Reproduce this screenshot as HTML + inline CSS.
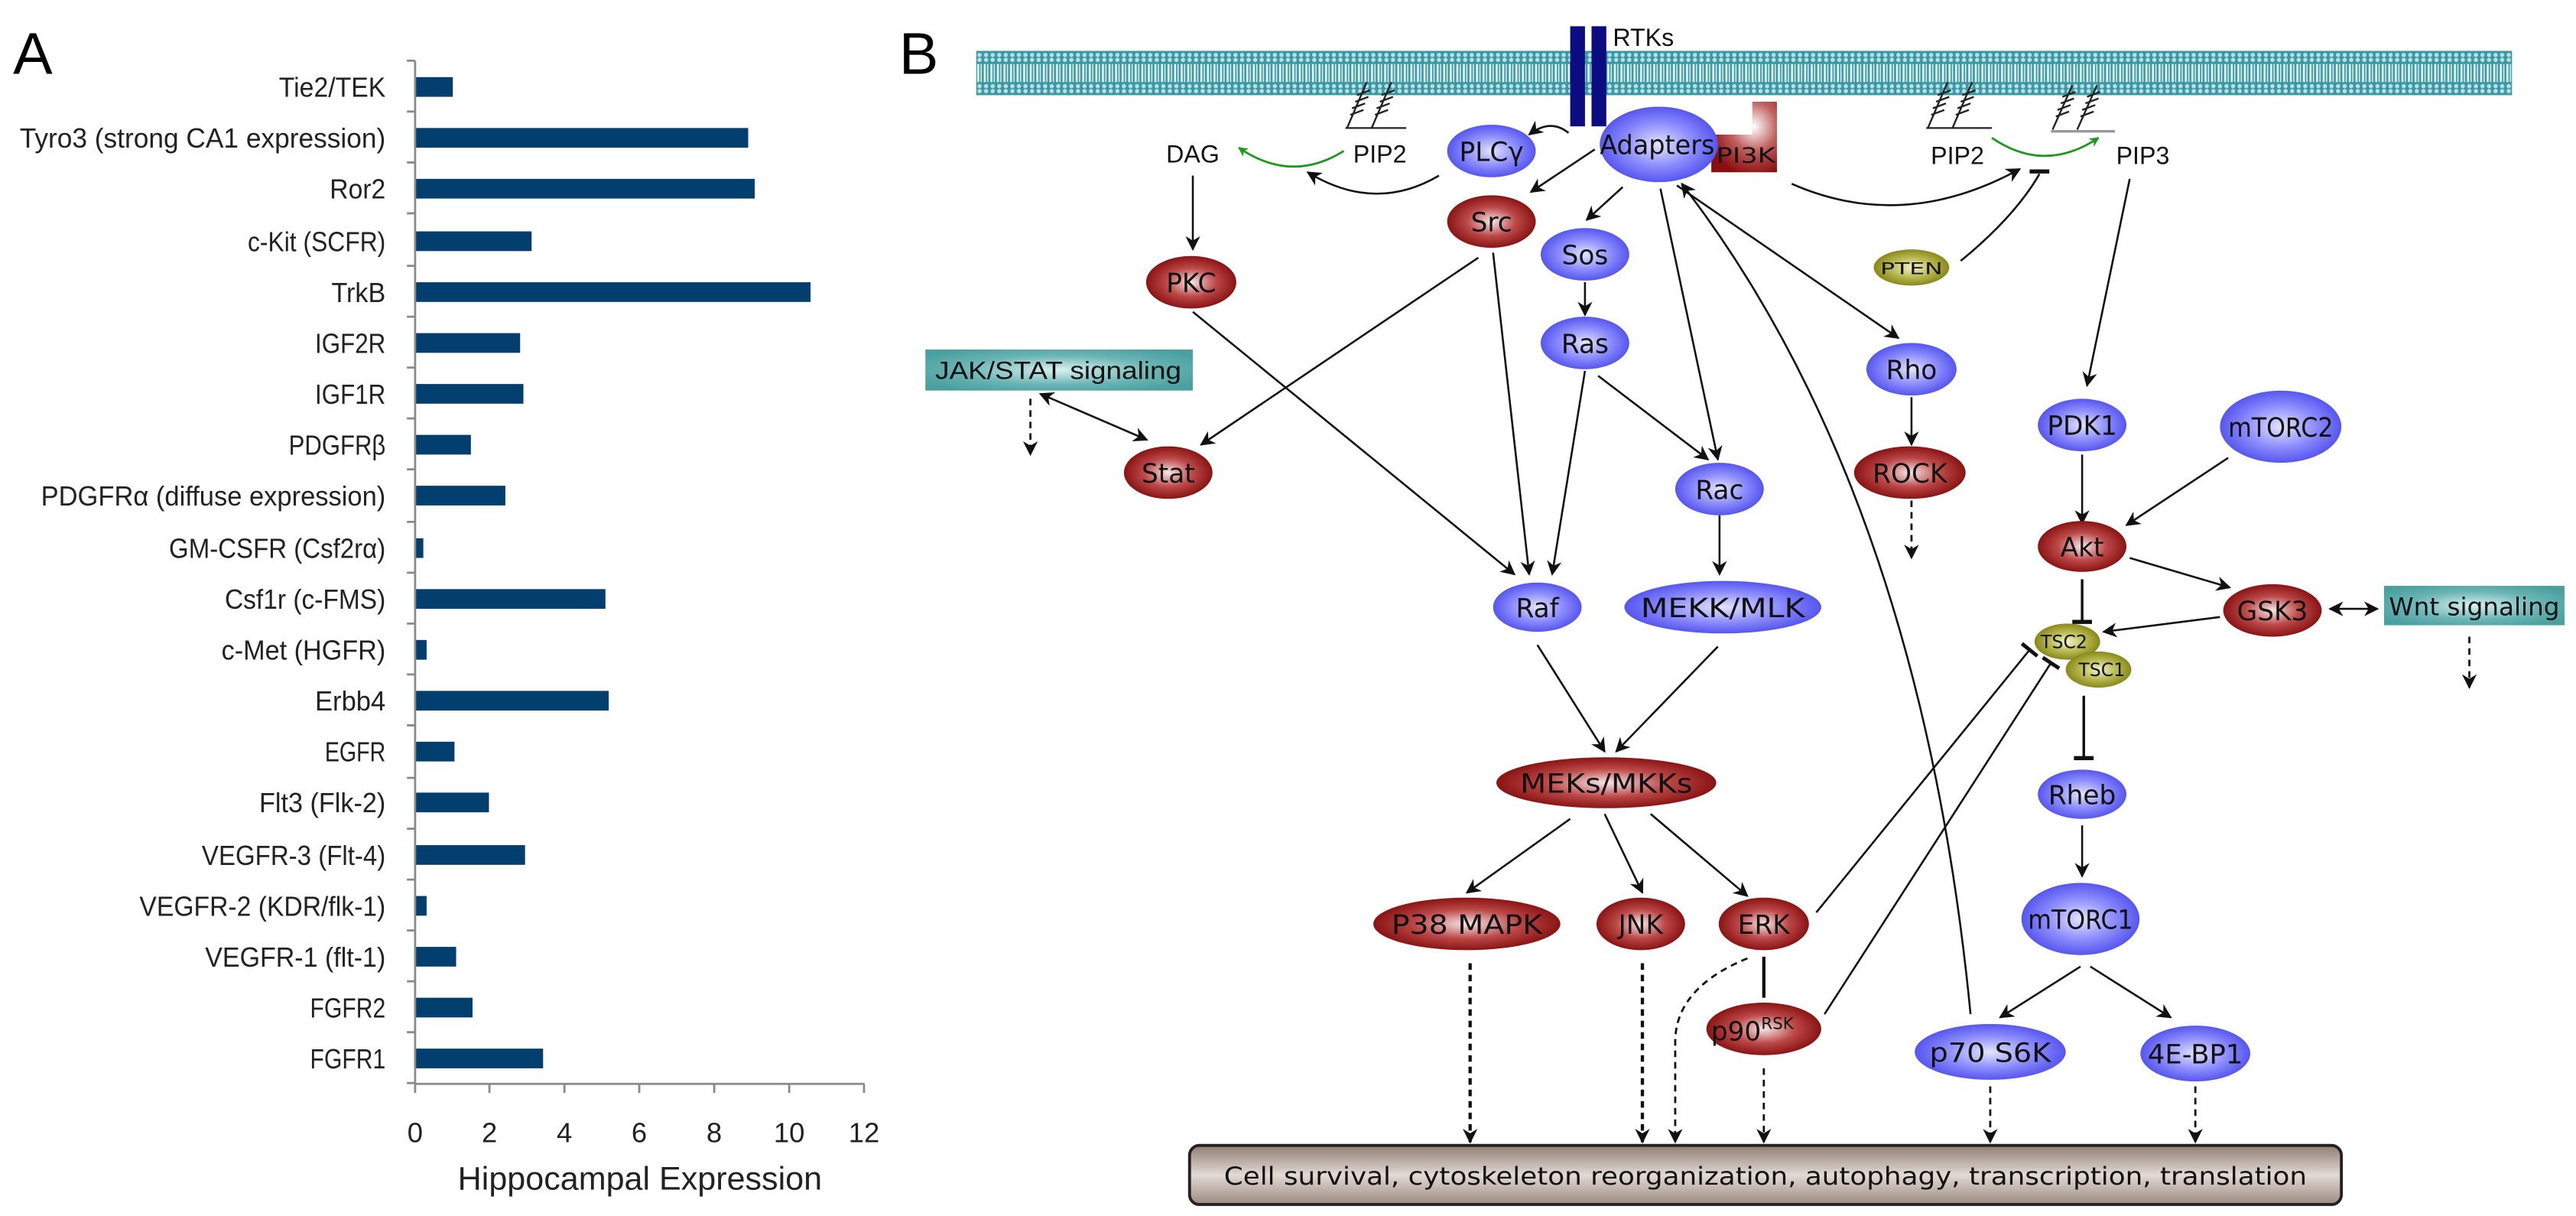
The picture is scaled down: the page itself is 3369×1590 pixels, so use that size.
<!DOCTYPE html>
<html><head><meta charset="utf-8"><style>
html,body{margin:0;padding:0;background:#fff;}
svg{display:block;}
</style></head><body>
<svg xmlns="http://www.w3.org/2000/svg" width="3369" height="1590" viewBox="0 0 1570 741" preserveAspectRatio="none">
<defs>
<radialGradient id="gB" cx="50%" cy="50%" r="50%"><stop offset="0" stop-color="#e4e4ff"/><stop offset="0.55" stop-color="#9090ff"/><stop offset="1" stop-color="#5656ee"/></radialGradient>
<radialGradient id="gR" cx="50%" cy="50%" r="50%"><stop offset="0" stop-color="#f6e6e6"/><stop offset="0.55" stop-color="#bd4848"/><stop offset="1" stop-color="#8a1414"/></radialGradient>
<radialGradient id="gO" cx="50%" cy="50%" r="50%"><stop offset="0" stop-color="#f2f2c8"/><stop offset="0.6" stop-color="#b4b44a"/><stop offset="1" stop-color="#88881c"/></radialGradient>
<radialGradient id="gP" cx="65%" cy="35%" r="70%"><stop offset="0" stop-color="#ffffff"/><stop offset="0.5" stop-color="#c06060"/><stop offset="1" stop-color="#8a1010"/></radialGradient>
<radialGradient id="gT" cx="50%" cy="50%" r="60%"><stop offset="0" stop-color="#d8f0f0"/><stop offset="0.6" stop-color="#6ab4b4"/><stop offset="1" stop-color="#4aa0a0"/></radialGradient>
<linearGradient id="gBox" x1="0" y1="0" x2="0" y2="1"><stop offset="0" stop-color="#8e7d72"/><stop offset="0.5" stop-color="#e2dad4"/><stop offset="1" stop-color="#9a8a7e"/></linearGradient>
<pattern id="mem" width="4" height="27" patternUnits="userSpaceOnUse" x="595" y="31">
<rect width="4" height="27" fill="#3a98a2"/>
<circle cx="2" cy="2.5" r="1.3" fill="#b8e0e4"/><circle cx="2" cy="5.5" r="1.3" fill="#b8e0e4"/>
<circle cx="2" cy="21.5" r="1.3" fill="#b8e0e4"/><circle cx="2" cy="24.5" r="1.3" fill="#b8e0e4"/>
<rect x="0.6" y="8" width="1.2" height="11" fill="#e8f6f6"/><rect x="2.6" y="8" width="0.8" height="11" fill="#d0ecee"/>
</pattern>
<marker id="a" viewBox="0 0 10 10" refX="9" refY="5" markerWidth="9" markerHeight="9" markerUnits="userSpaceOnUse" orient="auto"><path d="M0,0 L10,5 L0,10 L3,5 Z" fill="#111"/></marker>
<marker id="ag" viewBox="0 0 10 10" refX="9" refY="5" markerWidth="6" markerHeight="6" markerUnits="userSpaceOnUse" orient="auto"><path d="M0,0 L10,5 L0,10 L3,5 Z" fill="#1a9a1a"/></marker>
<marker id="as" viewBox="0 0 10 10" refX="1" refY="5" markerWidth="9" markerHeight="9" markerUnits="userSpaceOnUse" orient="auto"><path d="M10,0 L0,5 L10,10 L7,5 Z" fill="#111"/></marker>
</defs>

<!-- PANEL A -->
<text x="8" y="45" font-family="Liberation Sans, sans-serif" font-size="36">A</text>
<g fill="#033f6e">
<rect x="253" y="47" width="23" height="12"/>
<rect x="253" y="78" width="203" height="12"/>
<rect x="253" y="109" width="207" height="12"/>
<rect x="253" y="141" width="71" height="12"/>
<rect x="253" y="172" width="241" height="12"/>
<rect x="253" y="203" width="64" height="12"/>
<rect x="253" y="234" width="66" height="12"/>
<rect x="253" y="265" width="34" height="12"/>
<rect x="253" y="296" width="55" height="12"/>
<rect x="253" y="328" width="5" height="12"/>
<rect x="253" y="359" width="116" height="12"/>
<rect x="253" y="390" width="7" height="12"/>
<rect x="253" y="421" width="118" height="12"/>
<rect x="253" y="452" width="24" height="12"/>
<rect x="253" y="483" width="45" height="12"/>
<rect x="253" y="515" width="67" height="12"/>
<rect x="253" y="546" width="7" height="12"/>
<rect x="253" y="577" width="25" height="12"/>
<rect x="253" y="608" width="35" height="12"/>
<rect x="253" y="639" width="78" height="12"/>
</g>
<g stroke="#8a8a8a" stroke-width="1.3" fill="none">
<line x1="253" y1="37" x2="253" y2="661"/>
<line x1="253" y1="660.5" x2="527" y2="660.5"/>
<path d="M248,37H253 M248,68H253 M248,99H253 M248,130H253 M248,162H253 M248,193H253 M248,224H253 M248,255H253 M248,286H253 M248,318H253 M248,349H253 M248,380H253 M248,411H253 M248,442H253 M248,474H253 M248,505H253 M248,536H253 M248,567H253 M248,598H253 M248,629H253 M248,660H253"/>
<path d="M253,661V666 M298.3,661V666 M344,661V666 M389.6,661V666 M435.3,661V666 M481,661V666 M526.6,661V666"/>
</g>
<g font-family="Liberation Sans, sans-serif" font-size="17" fill="#222" text-anchor="end">
<text x="235" y="59" textLength="65" lengthAdjust="spacingAndGlyphs">Tie2/TEK</text>
<text x="235" y="90" textLength="223" lengthAdjust="spacingAndGlyphs">Tyro3 (strong CA1 expression)</text>
<text x="235" y="121" textLength="34" lengthAdjust="spacingAndGlyphs">Ror2</text>
<text x="235" y="153" textLength="84" lengthAdjust="spacingAndGlyphs">c-Kit (SCFR)</text>
<text x="235" y="184" textLength="33" lengthAdjust="spacingAndGlyphs">TrkB</text>
<text x="235" y="215" textLength="43" lengthAdjust="spacingAndGlyphs">IGF2R</text>
<text x="235" y="246" textLength="43" lengthAdjust="spacingAndGlyphs">IGF1R</text>
<text x="235" y="277" textLength="59" lengthAdjust="spacingAndGlyphs">PDGFRβ</text>
<text x="235" y="308" textLength="210" lengthAdjust="spacingAndGlyphs">PDGFRα (diffuse expression)</text>
<text x="235" y="340" textLength="132" lengthAdjust="spacingAndGlyphs">GM-CSFR (Csf2rα)</text>
<text x="235" y="371" textLength="98" lengthAdjust="spacingAndGlyphs">Csf1r (c-FMS)</text>
<text x="235" y="402" textLength="100" lengthAdjust="spacingAndGlyphs">c-Met (HGFR)</text>
<text x="235" y="433" textLength="43" lengthAdjust="spacingAndGlyphs">Erbb4</text>
<text x="235" y="464" textLength="37" lengthAdjust="spacingAndGlyphs">EGFR</text>
<text x="235" y="495" textLength="77" lengthAdjust="spacingAndGlyphs">Flt3 (Flk-2)</text>
<text x="235" y="527" textLength="112" lengthAdjust="spacingAndGlyphs">VEGFR-3 (Flt-4)</text>
<text x="235" y="558" textLength="150" lengthAdjust="spacingAndGlyphs">VEGFR-2 (KDR/flk-1)</text>
<text x="235" y="589" textLength="110" lengthAdjust="spacingAndGlyphs">VEGFR-1 (flt-1)</text>
<text x="235" y="620" textLength="46" lengthAdjust="spacingAndGlyphs">FGFR2</text>
<text x="235" y="651" textLength="46" lengthAdjust="spacingAndGlyphs">FGFR1</text>
</g>
<g font-family="Liberation Sans, sans-serif" font-size="17" fill="#222" text-anchor="middle">
<text x="253" y="696">0</text><text x="298.3" y="696">2</text><text x="344" y="696">4</text><text x="389.6" y="696">6</text><text x="435.3" y="696">8</text><text x="481" y="696">10</text><text x="526.6" y="696">12</text>
<text x="390" y="725" font-size="20" textLength="222" lengthAdjust="spacingAndGlyphs">Hippocampal Expression</text>
</g>

<!-- PANEL B -->
<text x="548" y="45" font-family="Liberation Sans, sans-serif" font-size="36">B</text>
<rect x="595" y="31" width="936" height="27" fill="url(#mem)"/>

<rect x="957" y="16" width="9" height="61" fill="#0c0c82"/>
<rect x="970" y="16" width="9" height="61" fill="#0c0c82"/>
<text x="983" y="28" font-family="Liberation Sans, sans-serif" font-size="15" fill="#111">RTKs</text>

<g stroke="#222" stroke-width="1.1" fill="none">
<path d="M820,78H857 M821,78L833,50 M836,78L848,50"/>
<path d="M823,70l8,-3 M824,66l8,-3 M826,62l8,-3 M827,58l8,-3 M838,70l8,-3 M839,66l8,-3 M841,62l8,-3 M842,58l8,-3"/>
<path d="M1174,78H1214 M1175,78L1187,50 M1190,78L1202,50"/>
<path d="M1177,70l8,-3 M1178,66l8,-3 M1180,62l8,-3 M1181,58l8,-3 M1192,70l8,-3 M1193,66l8,-3 M1195,62l8,-3 M1196,58l8,-3"/>
<path d="M1250,80H1289" stroke="#999" stroke-width="1.6"/>
<path d="M1251,79L1263,52 M1266,79L1278,52"/>
<path d="M1253,71l8,-3 M1254,67l8,-3 M1256,63l8,-3 M1257,59l8,-3 M1268,71l8,-3 M1269,67l8,-3 M1271,63l8,-3 M1272,59l8,-3"/>
</g>

<g font-family="Liberation Sans, sans-serif" font-size="15" fill="#111" text-anchor="middle">
<text x="727" y="99">DAG</text>
<text x="841" y="99">PIP2</text>
<text x="1193" y="100">PIP2</text>
<text x="1306" y="100">PIP3</text>
</g>

<g stroke="#111" stroke-width="1.2" fill="none">
<path d="M956,81 Q945,72 932,82" marker-end="url(#a)"/>
<path d="M877,107 Q838,130 797,105" marker-end="url(#a)"/>
<line x1="727" y1="107" x2="727" y2="152" marker-end="url(#a)"/>
<line x1="972" y1="91" x2="933" y2="117" marker-end="url(#a)"/>
<line x1="989" y1="114" x2="967" y2="134" marker-end="url(#a)"/>
<line x1="966" y1="172" x2="966" y2="192" marker-end="url(#a)"/>
<line x1="901" y1="157" x2="732" y2="271" marker-end="url(#a)"/>
<line x1="634" y1="240" x2="699" y2="268" marker-end="url(#a)" marker-start="url(#as)"/>
<line x1="727" y1="190" x2="923" y2="350" marker-end="url(#a)"/>
<line x1="910" y1="154" x2="932" y2="350" marker-end="url(#a)"/>
<line x1="966" y1="226" x2="946" y2="350" marker-end="url(#a)"/>
<line x1="974" y1="229" x2="1041" y2="280" marker-end="url(#a)"/>
<line x1="1012" y1="115" x2="1047" y2="280" marker-end="url(#a)"/>
<line x1="1022" y1="113" x2="1157" y2="206" marker-end="url(#a)"/>
<path d="M1201,618 Q1170,300 1025,112" marker-end="url(#a)"/>
<line x1="1165" y1="242" x2="1165" y2="271" marker-end="url(#a)"/>
<line x1="1048" y1="314" x2="1048" y2="350" marker-end="url(#a)"/>
<path d="M1092,112 Q1160,142 1231,103" marker-end="url(#a)"/>
<path d="M1195,159 Q1228,132 1243,106"/>
<line x1="1237" y1="104.5" x2="1249" y2="104.5" stroke-width="2.5"/>
<line x1="1298" y1="109" x2="1272" y2="235" marker-end="url(#a)"/>
<line x1="1269" y1="277" x2="1269" y2="319" marker-end="url(#a)"/>
<line x1="1358" y1="279" x2="1296" y2="320" marker-end="url(#a)"/>
<line x1="1298" y1="340" x2="1359" y2="358" marker-end="url(#a)"/>
<line x1="1420" y1="371" x2="1449" y2="371" marker-end="url(#a)" marker-start="url(#as)"/>
<line x1="1353" y1="376" x2="1282" y2="385" marker-end="url(#a)"/>
<line x1="1269" y1="353" x2="1269" y2="378" stroke-width="1.6"/>
<line x1="1263" y1="379" x2="1275" y2="379" stroke-width="2.5"/>
<line x1="1270" y1="424" x2="1270" y2="461" stroke-width="1.6"/>
<line x1="1264" y1="462" x2="1276" y2="462" stroke-width="2.5"/>
<line x1="1269" y1="503" x2="1269" y2="534" marker-end="url(#a)"/>
<line x1="1268" y1="589" x2="1219" y2="620" marker-end="url(#a)"/>
<line x1="1274" y1="589" x2="1323" y2="620" marker-end="url(#a)"/>
<line x1="1107" y1="556" x2="1237" y2="396"/>
<line x1="1232.3" y1="392.2" x2="1241.7" y2="399.8" stroke-width="2.3"/>
<line x1="1112" y1="618" x2="1250" y2="404"/>
<line x1="1245" y1="400.7" x2="1255" y2="407.3" stroke-width="2.3"/>
<line x1="937" y1="393" x2="978" y2="458" marker-end="url(#a)"/>
<line x1="1047" y1="394" x2="985" y2="458" marker-end="url(#a)"/>
<line x1="957" y1="499" x2="894" y2="544" marker-end="url(#a)"/>
<line x1="978" y1="496" x2="1001" y2="544" marker-end="url(#a)"/>
<line x1="1006" y1="496" x2="1065" y2="546" marker-end="url(#a)"/>
<line x1="1075" y1="583" x2="1075" y2="608" stroke-width="2"/>
</g>
<g stroke="#111" stroke-width="1.3" fill="none" stroke-dasharray="4,3">
<line x1="628" y1="243" x2="628" y2="277" marker-end="url(#a)"/>
<line x1="1165" y1="305" x2="1165" y2="340" marker-end="url(#a)"/>
<line x1="1505" y1="388" x2="1505" y2="419" marker-end="url(#a)"/>
<line x1="896" y1="587" x2="896" y2="696" stroke-width="2" marker-end="url(#a)"/>
<line x1="1001" y1="587" x2="1001" y2="696" stroke-width="2" marker-end="url(#a)"/>
<path d="M1065,584 Q1021,602 1021,635 L1021,696" marker-end="url(#a)"/>
<line x1="1075" y1="651" x2="1075" y2="696" marker-end="url(#a)"/>
<line x1="1213" y1="662" x2="1213" y2="696" marker-end="url(#a)"/>
<line x1="1338" y1="662" x2="1338" y2="696" marker-end="url(#a)"/>
</g>
<path d="M819,92 Q787,112 755,90" stroke="#1a9a1a" stroke-width="1.3" fill="none" marker-end="url(#ag)"/>
<path d="M1214,84 Q1246,106 1279,84" stroke="#1a9a1a" stroke-width="1.3" fill="none" marker-end="url(#ag)"/>

<rect x="564" y="213" width="163" height="25" fill="url(#gT)"/>
<rect x="1453" y="357" width="110" height="24" fill="url(#gT)"/>
<g font-family="Liberation Sans, sans-serif" font-size="15" fill="#111" text-anchor="middle">
<text x="645" y="231" textLength="150" lengthAdjust="spacingAndGlyphs">JAK/STAT signaling</text>
<text x="1508" y="375" font-family="DejaVu Sans, sans-serif" textLength="104" lengthAdjust="spacingAndGlyphs">Wnt signaling</text>
</g>

<path d="M1043,82 L1068,82 L1068,62 L1083,62 L1083,105 L1043,105 Z" fill="url(#gP)"/>

<g>
<ellipse cx="909" cy="92" rx="27" ry="16" fill="url(#gB)"/>
<ellipse cx="1011" cy="88" rx="36" ry="23" fill="url(#gB)"/>
<ellipse cx="909" cy="135" rx="27" ry="16" fill="url(#gR)"/>
<ellipse cx="726" cy="172" rx="27.5" ry="16" fill="url(#gR)"/>
<ellipse cx="966" cy="155" rx="27" ry="16" fill="url(#gB)"/>
<ellipse cx="966" cy="209" rx="27" ry="16" fill="url(#gB)"/>
<ellipse cx="712" cy="288" rx="27" ry="16" fill="url(#gR)"/>
<ellipse cx="1165" cy="225" rx="27.5" ry="16" fill="url(#gB)"/>
<ellipse cx="1164" cy="288" rx="34" ry="16" fill="url(#gR)"/>
<ellipse cx="1165" cy="163" rx="23" ry="11" fill="url(#gO)"/>
<ellipse cx="1048" cy="298" rx="27" ry="16" fill="url(#gB)"/>
<ellipse cx="937" cy="370" rx="27" ry="15" fill="url(#gB)"/>
<ellipse cx="1050" cy="370" rx="60" ry="16" fill="url(#gB)"/>
<ellipse cx="979" cy="477" rx="67" ry="15.5" fill="url(#gR)"/>
<ellipse cx="894" cy="563" rx="57" ry="16" fill="url(#gR)"/>
<ellipse cx="1000" cy="563" rx="27" ry="16" fill="url(#gR)"/>
<ellipse cx="1075" cy="563" rx="27.5" ry="16" fill="url(#gR)"/>
<ellipse cx="1075" cy="627" rx="35" ry="16" fill="url(#gR)"/>
<ellipse cx="1269" cy="259" rx="27" ry="16" fill="url(#gB)"/>
<ellipse cx="1390" cy="260" rx="37" ry="22" fill="url(#gB)"/>
<ellipse cx="1269" cy="333" rx="27" ry="15.5" fill="url(#gR)"/>
<ellipse cx="1385" cy="372" rx="30" ry="16" fill="url(#gR)"/>
<ellipse cx="1260" cy="391" rx="20" ry="11" fill="url(#gO)"/>
<ellipse cx="1279" cy="408" rx="20" ry="11" fill="url(#gO)"/>
<ellipse cx="1269" cy="484" rx="27" ry="15" fill="url(#gB)"/>
<ellipse cx="1268" cy="560" rx="36" ry="22" fill="url(#gB)"/>
<ellipse cx="1213" cy="641" rx="46" ry="17" fill="url(#gB)"/>
<ellipse cx="1338" cy="642" rx="33.5" ry="17" fill="url(#gB)"/>
</g>
<g font-family="DejaVu Sans, sans-serif" font-size="16" fill="#111" text-anchor="middle">
<text x="909" y="98">PLCγ</text>
<text x="1010" y="94" textLength="70" lengthAdjust="spacingAndGlyphs">Adapters</text>
<text x="1064" y="99" font-size="13" textLength="36" lengthAdjust="spacingAndGlyphs">PI3K</text>
<text x="909" y="141">Src</text>
<text x="726" y="178">PKC</text>
<text x="966" y="161">Sos</text>
<text x="966" y="215">Ras</text>
<text x="712" y="294">Stat</text>
<text x="1165" y="231">Rho</text>
<text x="1164" y="294">ROCK</text>
<text x="1165" y="167" font-size="10" textLength="38" lengthAdjust="spacingAndGlyphs">PTEN</text>
<text x="1048" y="304">Rac</text>
<text x="937" y="376">Raf</text>
<text x="1050" y="376" textLength="100" lengthAdjust="spacingAndGlyphs">MEKK/MLK</text>
<text x="979" y="483" textLength="105" lengthAdjust="spacingAndGlyphs">MEKs/MKKs</text>
<text x="894" y="569" textLength="92" lengthAdjust="spacingAndGlyphs">P38 MAPK</text>
<text x="1000" y="569">JNK</text>
<text x="1075" y="569">ERK</text>
<text x="1068" y="634">p90<tspan font-size="10" dy="-7">RSK</tspan></text>
<text x="1269" y="265">PDK1</text>
<text x="1390" y="266" textLength="64" lengthAdjust="spacingAndGlyphs">mTORC2</text>
<text x="1269" y="339">Akt</text>
<text x="1385" y="378">GSK3</text>
<text x="1258" y="395" font-size="11">TSC2</text>
<text x="1281" y="412" font-size="11">TSC1</text>
<text x="1269" y="490">Rheb</text>
<text x="1268" y="566" textLength="64" lengthAdjust="spacingAndGlyphs">mTORC1</text>
<text x="1213" y="647" textLength="74" lengthAdjust="spacingAndGlyphs">p70 S6K</text>
<text x="1338" y="648" textLength="58" lengthAdjust="spacingAndGlyphs">4E-BP1</text>
</g>

<rect x="725" y="698" width="702" height="36" rx="6" fill="url(#gBox)" stroke="#222" stroke-width="1.8"/>
<text x="1076" y="722" font-family="DejaVu Sans, sans-serif" font-size="15" fill="#111" text-anchor="middle" textLength="660" lengthAdjust="spacingAndGlyphs">Cell survival, cytoskeleton reorganization, autophagy, transcription, translation</text>
</svg>
</body></html>
